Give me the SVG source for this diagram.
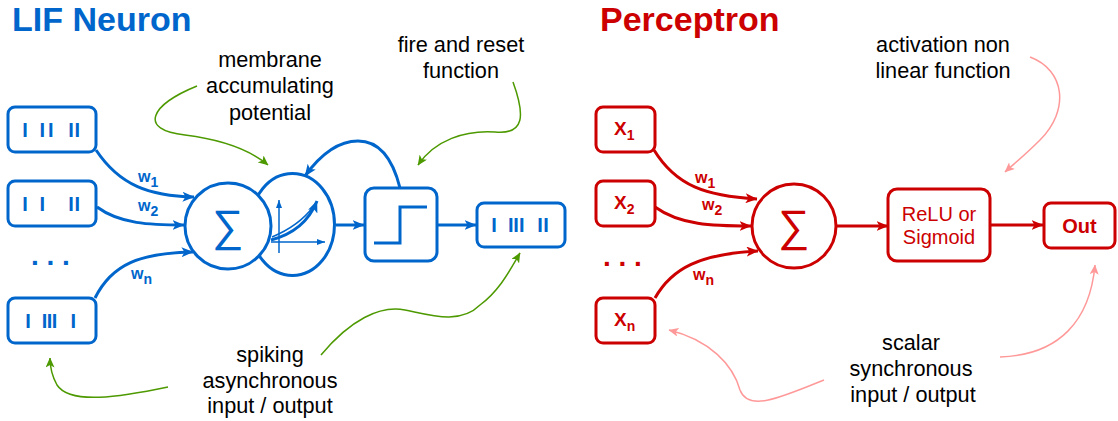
<svg xmlns="http://www.w3.org/2000/svg" width="1118" height="421" viewBox="0 0 1118 421">
  <defs>
    <style>
      text { font-family: "Liberation Sans", Arial, Helvetica, sans-serif; }
      .title { font-size: 34px; font-weight: bold; }
      .blue { fill: #0066CC; }
      .red { fill: #CC0000; }
      .note { font-size: 21.7px; fill: #000000; text-anchor: middle; }
      .spk { font-size: 20px; font-weight: bold; fill: #0066CC; text-anchor: middle; }
      .w { font-size: 16px; font-weight: bold; }
      .sub { font-size: 14px; }
      .xl { font-size: 19px; font-weight: bold; fill: #CC0000; }
      .dots { font-size: 28px; font-weight: bold; }
      .box-b { fill: #ffffff; stroke: #0066CC; stroke-width: 3; }
      .box-r { fill: #ffffff; stroke: #CC0000; stroke-width: 3; }
      .wire-b { fill: none; stroke: #0066CC; stroke-width: 3; }
      .wire-r { fill: none; stroke: #CC0000; stroke-width: 3; }
      .thin-b { fill: none; stroke: #0066CC; stroke-width: 1.5; }
      .note-g { fill: none; stroke: #4D9900; stroke-width: 1.5; }
      .note-p { fill: none; stroke: #FF9999; stroke-width: 1.5; }
    </style>
    <marker id="arrB" viewBox="0 0 12 10" refX="11.5" refY="5" markerWidth="12" markerHeight="10" orient="auto" markerUnits="userSpaceOnUse">
      <path d="M0,0 L12,5 L0,10 L3,5 Z" fill="#0066CC"/>
    </marker>
    <marker id="arrR" viewBox="0 0 12 10" refX="11.5" refY="5" markerWidth="12" markerHeight="10" orient="auto" markerUnits="userSpaceOnUse">
      <path d="M0,0 L12,5 L0,10 L3,5 Z" fill="#CC0000"/>
    </marker>
    <marker id="arrG" viewBox="0 0 10 9" refX="9.5" refY="4.5" markerWidth="10" markerHeight="9" orient="auto" markerUnits="userSpaceOnUse">
      <path d="M0,0 L10,4.5 L0,9 L2.5,4.5 Z" fill="#4D9900"/>
    </marker>
    <marker id="arrP" viewBox="0 0 10 9" refX="9.5" refY="4.5" markerWidth="10" markerHeight="9" orient="auto" markerUnits="userSpaceOnUse">
      <path d="M0,0 L10,4.5 L0,9 L2.5,4.5 Z" fill="#FF9999"/>
    </marker>
    <marker id="arrAx" viewBox="0 0 8 6" refX="8" refY="3" markerWidth="8" markerHeight="6" orient="auto" markerUnits="userSpaceOnUse">
      <path d="M0,0 L8,3 L0,6 Z" fill="#0066CC"/>
    </marker>
  </defs>

  <!-- Titles -->
  <text id="title-lif" class="title blue" x="12" y="31">LIF Neuron</text>
  <text id="title-perceptron" class="title red" x="600" y="31">Perceptron</text>

  <!-- Connectors -->
  <g id="connectors">
    <!-- LIF: spike trains into the summation -->
    <path class="wire-b" d="M96,150 C120,186 150,196 194,197" marker-end="url(#arrB)"/>
    <path class="wire-b" d="M97,207 C120,224 150,225 184,225" marker-end="url(#arrB)"/>
    <path class="wire-b" d="M95,298 C112,264 140,253 193,252" marker-end="url(#arrB)"/>
    <!-- LIF: membrane -> threshold -> output -->
    <path class="wire-b" d="M336,225 L364,225" marker-end="url(#arrB)"/>
    <path class="wire-b" d="M437,225 L476,225" marker-end="url(#arrB)"/>
    <!-- LIF: reset feedback -->
    <path class="wire-b" d="M400,188 C393,160 380,141 358,141 C335,141 318,158 305,176" marker-end="url(#arrB)"/>

    <!-- Perceptron: inputs into the summation -->
    <path class="wire-r" d="M654,150 C676,186 706,196 757,199" marker-end="url(#arrR)"/>
    <path class="wire-r" d="M655,207 C680,225 712,226 751,226" marker-end="url(#arrR)"/>
    <path class="wire-r" d="M655,298 C672,268 700,254 758,251" marker-end="url(#arrR)"/>
    <path class="wire-r" d="M836,226 L888,226" marker-end="url(#arrR)"/>
    <path class="wire-r" d="M990,225 L1043,225" marker-end="url(#arrR)"/>

    <!-- Annotation pointers -->
    <path class="note-g" d="M197,86 C150,105 138,130 185,135 C225,140 250,150 268,165" marker-end="url(#arrG)"/>
    <path class="note-g" d="M513,82 C525,115 525,135 495,132 C465,130 435,140 418,165" marker-end="url(#arrG)"/>
    <path class="note-g" d="M168,387 C120,397 70,405 57,385 C52,376 50,368 50,358" marker-end="url(#arrG)"/>
    <path class="note-g" d="M321,355 C350,320 380,305 405,310 C430,315 460,325 480,305 C500,290 510,270 520,253" marker-end="url(#arrG)"/>
    <path class="note-p" d="M1030,57 C1065,70 1070,110 1040,140 C1025,155 1015,163 1005,172" marker-end="url(#arrP)"/>
    <path class="note-p" d="M824,380 C780,398 748,412 740,390 C733,365 710,340 669,330" marker-end="url(#arrP)"/>
    <path class="note-p" d="M1000,357 C1060,355 1090,320 1095,265" marker-end="url(#arrP)"/>
  </g>

  <!-- Weight labels -->
  <g id="weights-lif" class="blue">
    <text class="w" x="138" y="182">w<tspan class="sub" dy="5">1</tspan></text>
    <text class="w" x="138" y="211">w<tspan class="sub" dy="5">2</tspan></text>
    <text class="w" x="131" y="279">w<tspan class="sub" dy="5">n</tspan></text>
  </g>
  <g id="weights-perceptron" class="red">
    <text class="w" x="695" y="183">w<tspan class="sub" dy="5">1</tspan></text>
    <text class="w" x="702" y="210">w<tspan class="sub" dy="5">2</tspan></text>
    <text class="w" x="693" y="280">w<tspan class="sub" dy="5">n</tspan></text>
  </g>

  <!-- LIF spike-train inputs -->
  <g id="lif-in-1">
    <rect class="box-b" x="8" y="107" width="88" height="45" rx="7"/>
    <text class="spk" y="137"><tspan x="25">I</tspan><tspan x="42.3">I</tspan><tspan x="50.7">I</tspan><tspan x="71">I</tspan><tspan x="77.3">I</tspan></text>
  </g>
  <g id="lif-in-2">
    <rect class="box-b" x="8" y="181" width="88" height="45" rx="7"/>
    <text class="spk" y="211"><tspan x="25">I</tspan><tspan x="42.3">I</tspan><tspan x="71">I</tspan><tspan x="77.3">I</tspan></text>
  </g>
  <text id="lif-in-more" class="dots blue" x="31" y="265">. . .</text>
  <g id="lif-in-n">
    <rect class="box-b" x="8" y="298" width="88" height="45" rx="7"/>
    <text class="spk" y="328"><tspan x="28">I</tspan><tspan x="44.5">I</tspan><tspan x="49.5">I</tspan><tspan x="54.5">I</tspan><tspan x="73.3">I</tspan></text>
  </g>

  <!-- LIF membrane potential -->
  <g id="lif-membrane">
    <ellipse class="box-b" cx="292.5" cy="224.5" rx="42" ry="51"/>
    <line class="thin-b" x1="279" y1="253" x2="279" y2="200" marker-end="url(#arrAx)"/>
    <line class="thin-b" x1="271" y1="242" x2="325" y2="242" marker-end="url(#arrAx)"/>
    <path class="wire-b" d="M271,240 C294,234 309,221 317,201" stroke-width="2.5" marker-end="url(#arrB)"/>
    <path class="thin-b" d="M272,237 C291,229 304,219 313,207"/>
  </g>

  <!-- LIF summation -->
  <g id="lif-sum">
    <circle class="box-b" cx="228" cy="226" r="43"/>
    <text x="228" y="241" text-anchor="middle" font-size="44" class="blue">∑</text>
  </g>

  <!-- LIF fire and reset -->
  <g id="lif-threshold">
    <rect class="box-b" x="365" y="188" width="72" height="73" rx="9"/>
    <path class="wire-b" d="M374,243 L400,243 L400,207 L427,207"/>
  </g>

  <!-- LIF spike-train output -->
  <g id="lif-out">
    <rect class="box-b" x="477" y="203" width="88" height="44" rx="7"/>
    <text class="spk" y="232"><tspan x="494">I</tspan><tspan x="510.7">I</tspan><tspan x="516">I</tspan><tspan x="521.7">I</tspan><tspan x="540">I</tspan><tspan x="546">I</tspan></text>
  </g>

  <!-- LIF annotations -->
  <g id="note-membrane">
    <text class="note" x="270" y="67">membrane</text>
    <text class="note" x="270" y="93">accumulating</text>
    <text class="note" x="270" y="120">potential</text>
  </g>
  <g id="note-fire">
    <text class="note" x="461" y="52">fire and reset</text>
    <text class="note" x="461" y="78">function</text>
  </g>
  <g id="note-spiking">
    <text class="note" x="270" y="362">spiking</text>
    <text class="note" x="270" y="388">asynchronous</text>
    <text class="note" x="270" y="413">input / output</text>
  </g>

  <!-- Perceptron inputs -->
  <g id="p-in-1">
    <rect class="box-r" x="596" y="107" width="59" height="45" rx="7"/>
    <text class="xl" x="614" y="135">X<tspan class="sub" dy="5">1</tspan></text>
  </g>
  <g id="p-in-2">
    <rect class="box-r" x="596" y="181" width="59" height="45" rx="7"/>
    <text class="xl" x="614" y="209">X<tspan class="sub" dy="5">2</tspan></text>
  </g>
  <text id="p-in-more" class="dots red" x="603" y="266">. . .</text>
  <g id="p-in-n">
    <rect class="box-r" x="596" y="298" width="59" height="45" rx="7"/>
    <text class="xl" x="614" y="326">X<tspan class="sub" dy="5">n</tspan></text>
  </g>

  <!-- Perceptron summation -->
  <g id="p-sum">
    <circle class="box-r" cx="794" cy="226" r="42"/>
    <text x="794" y="241" text-anchor="middle" font-size="44" class="red">∑</text>
  </g>

  <!-- Perceptron activation -->
  <g id="p-activation">
    <rect class="box-r" x="888" y="189" width="102" height="72" rx="9"/>
    <text x="939" y="221" text-anchor="middle" font-size="20" class="red">ReLU or</text>
    <text x="939" y="244" text-anchor="middle" font-size="20" class="red">Sigmoid</text>
  </g>

  <!-- Perceptron output -->
  <g id="p-out">
    <rect class="box-r" x="1044" y="203" width="71" height="45" rx="7"/>
    <text x="1079.5" y="233" text-anchor="middle" font-size="20" font-weight="bold" class="red">Out</text>
  </g>

  <!-- Perceptron annotations -->
  <g id="note-activation">
    <text class="note" x="943" y="52">activation non</text>
    <text class="note" x="943" y="78">linear function</text>
  </g>
  <g id="note-scalar">
    <text class="note" x="911" y="350">scalar</text>
    <text class="note" x="911" y="376">synchronous</text>
    <text class="note" x="913" y="402">input / output</text>
  </g>
</svg>
